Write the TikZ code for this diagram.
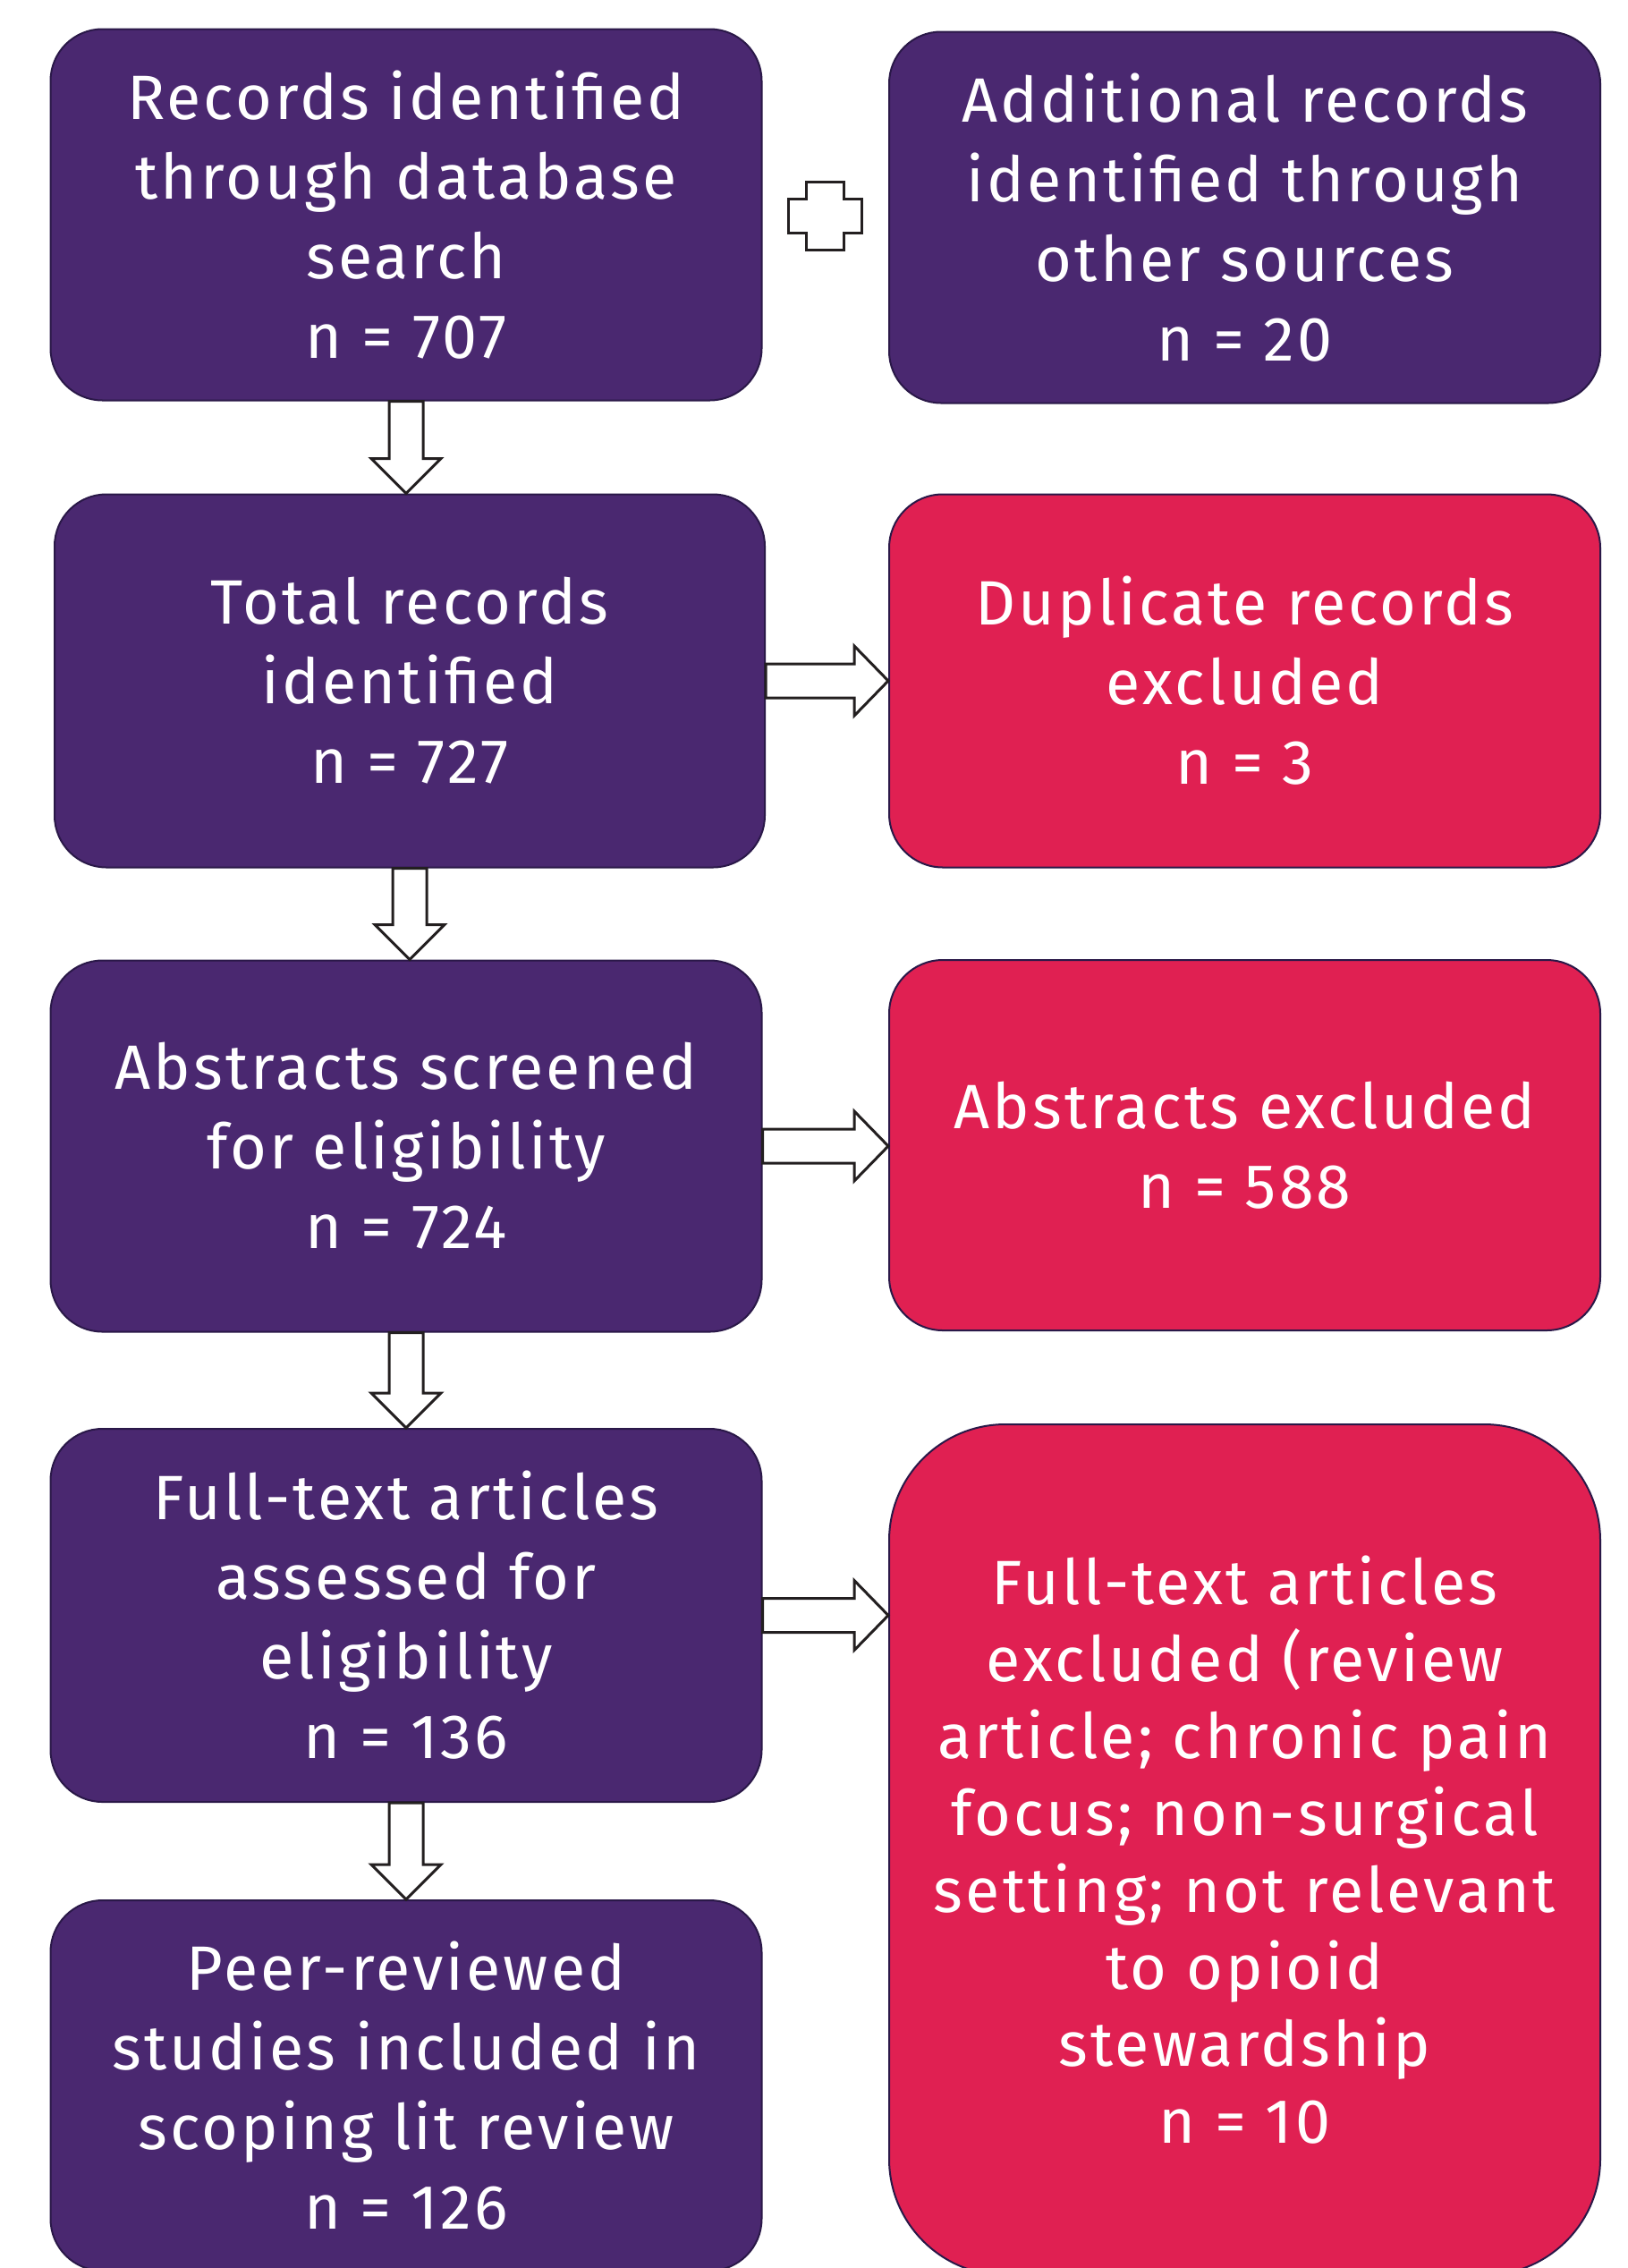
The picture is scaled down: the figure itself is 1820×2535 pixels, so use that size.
\documentclass[tikz,border=0pt]{standalone}
\usepackage{fontspec}
\setmainfont{Fira Sans}[LetterSpace=4.5]
\usetikzlibrary{calc}
\definecolor{ppl}{HTML}{4A2870}
\definecolor{rd}{HTML}{E02052}
\definecolor{edge}{HTML}{2A1848}
\definecolor{ink}{HTML}{231F20}
\tikzset{
  box/.style={draw=edge, line width=2pt, text=white, align=center, inner sep=0pt,
    font=\fontsize{70}{89}\selectfont, minimum width=795pt},
  pbox/.style={box, fill=ppl, rounded corners=58pt},
  rbox/.style={box, fill=rd, rounded corners=60pt},
  blockarrow/.style={draw=ink, fill=white, line width=3pt, line join=miter}
}
\newcommand\downblock[2]{%
  \draw[blockarrow] ($(#1.south)+(-19,0)$) -- ($(#1.south)+(19,0)$)
    -- ($(#1.south |- #2.north)+(19,-39)$) -- ($(#1.south |- #2.north)+(39,-39)$)
    -- (#1.south |- #2.north) -- ($(#1.south |- #2.north)+(-39,-39)$)
    -- ($(#1.south |- #2.north)+(-19,-39)$) -- cycle;}
\newcommand\rightblock[2]{%
  \draw[blockarrow] ($(#1.east)+(0,-19)$) -- ($(#1.east -| #2.west)+(-38,-19)$)
    -- ($(#1.east -| #2.west)+(-38,-39)$) -- (#1.east -| #2.west)
    -- ($(#1.east -| #2.west)+(-38,39)$) -- ($(#1.east -| #2.west)+(-38,19)$)
    -- ($(#1.east)+(0,19)$) -- cycle;}
\begin{document}
\begin{tikzpicture}[x=1pt,y=-1pt]
\useasboundingbox (0,0) rectangle (1820,2535);
\clip (0,0) rectangle (1820,2535);
\fill[white] (0,0) rectangle (1820,2535);

\node[pbox, minimum height=415pt] (b1) at (454,240) {Records identified\\through database\\search\\n = 707};
\node[pbox, minimum height=415pt] (b2) at (1391.5,243) {Additional records\\identified through\\other sources\\n = 20};
\node[pbox, minimum height=417pt, minimum width=794pt] (b3) at (458,761) {Total records\\identified\\n = 727};
\node[rbox, minimum height=417pt] (b4) at (1391.5,761) {Duplicate records\\excluded\\n = 3};
\node[pbox, minimum height=415pt] (b5) at (454,1281) {Abstracts screened\\for eligibility\\n = 724};
\node[rbox, minimum height=414pt] (b6) at (1391.5,1280) {Abstracts excluded\\n = 588};
\node[pbox, minimum height=417pt] (b7) at (454,1805.5) {Full-text articles\\assessed for\\eligibility\\n = 136};
\node[rbox, rounded corners=130pt, minimum height=951pt, font=\fontsize{70}{86}\selectfont] (b8) at (1391.5,2067.5) {Full-text articles\\excluded (review\\article; chronic pain\\focus; non-surgical\\setting; not relevant\\to opioid\\stewardship\\n = 10};
\node[pbox, minimum height=414pt] (b9) at (454,2331) {Peer-reviewed\\studies included in\\scoping lit review\\n = 126};

\coordinate (plus) at ($(b1.east)!0.5!(b2.west)$);
\draw[blockarrow] ($(plus)+(-21,-38)$) -- ($(plus)+(21,-38)$) -- ($(plus)+(21,-19)$)
  -- ($(plus)+(41,-19)$) -- ($(plus)+(41,19)$) -- ($(plus)+(21,19)$)
  -- ($(plus)+(21,38)$) -- ($(plus)+(-21,38)$) -- ($(plus)+(-21,19)$)
  -- ($(plus)+(-41,19)$) -- ($(plus)+(-41,-19)$) -- ($(plus)+(-21,-19)$) -- cycle;

\downblock{b1}{b3}
\downblock{b3}{b5}
\downblock{b5}{b7}
\downblock{b7}{b9}
\rightblock{b3}{b4}
\rightblock{b5}{b6}
\rightblock{b7}{b8}
\end{tikzpicture}
\end{document}
